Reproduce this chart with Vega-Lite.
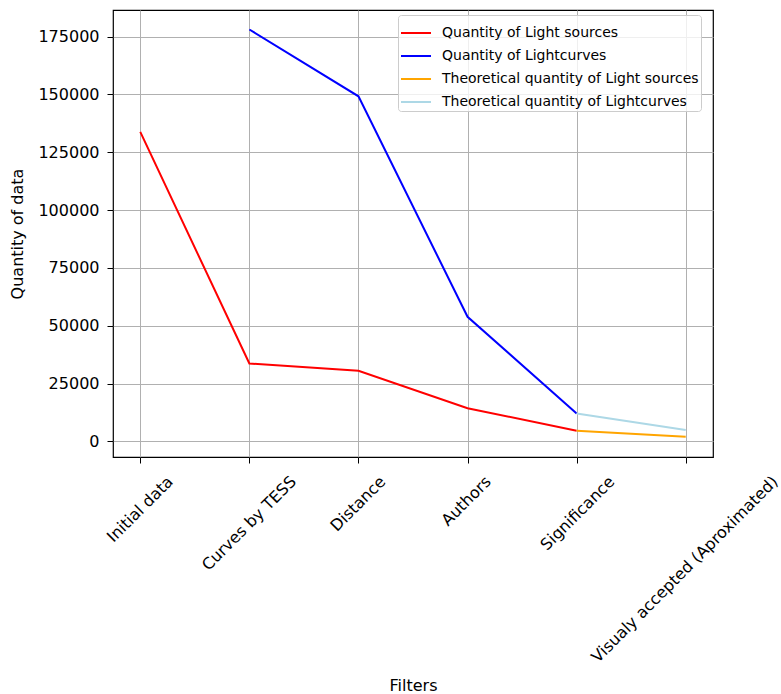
{
  "$schema": "https://vega.github.io/schema/vega-lite/v6.json",
  "width": 600,
  "height": 447,
  "autosize": {"type": "none"},
  "padding": {"left": 113, "top": 10, "right": 68, "bottom": 237},
  "background": "white",
  "config": {
    "font": "DejaVu Sans",
    "view": {"stroke": "#000000", "strokeWidth": 1.2}
  },
  "data": {
    "values": [
      {"filter": "Initial data", "series": "Quantity of Light sources", "value": 133800},
      {"filter": "Curves by TESS", "series": "Quantity of Light sources", "value": 33700},
      {"filter": "Distance", "series": "Quantity of Light sources", "value": 30600},
      {"filter": "Authors", "series": "Quantity of Light sources", "value": 14400},
      {"filter": "Significance", "series": "Quantity of Light sources", "value": 4630},
      {"filter": "Curves by TESS", "series": "Quantity of Lightcurves", "value": 178080},
      {"filter": "Distance", "series": "Quantity of Lightcurves", "value": 149200},
      {"filter": "Authors", "series": "Quantity of Lightcurves", "value": 53900},
      {"filter": "Significance", "series": "Quantity of Lightcurves", "value": 12100},
      {"filter": "Significance", "series": "Theoretical quantity of Light sources", "value": 4630},
      {"filter": "Visualy accepted (Aproximated)", "series": "Theoretical quantity of Light sources", "value": 2030},
      {"filter": "Significance", "series": "Theoretical quantity of Lightcurves", "value": 12100},
      {"filter": "Visualy accepted (Aproximated)", "series": "Theoretical quantity of Lightcurves", "value": 4930}
    ]
  },
  "mark": {"type": "line", "strokeWidth": 2, "clip": true},
  "encoding": {
    "x": {
      "field": "filter",
      "type": "ordinal",
      "sort": ["Initial data", "Curves by TESS", "Distance", "Authors", "Significance", "Visualy accepted (Aproximated)"],
      "scale": {"type": "point", "padding": 0.25},
      "axis": {
        "title": "Filters",
        "titleFontSize": 16,
        "titleFontWeight": "normal",
        "titleColor": "#000000",
        "titlePadding": 20,
        "labelFontSize": 16,
        "labelColor": "#000000",
        "labelAngle": -45,
        "labelAlign": "right",
        "labelBaseline": "top",
        "labelPadding": 10,
        "labelOffset": {"expr": "3.59 * length(replace(datum.label, regexp('[iltfjrI() ]', 'g'), '')) + 1.87 * (length(datum.label) - length(replace(datum.label, regexp('[iltfjrI() ]', 'g'), ''))) - 7"},
        "labelOverlap": false,
        "labelBound": false,
        "labelLimit": 0,
        "tickSize": 6,
        "tickColor": "#000000",
        "domain": false,
        "grid": true,
        "gridColor": "#b0b0b0",
        "gridWidth": 1
      }
    },
    "y": {
      "field": "value",
      "type": "quantitative",
      "scale": {"domain": [-6700, 186500], "nice": false, "zero": false},
      "axis": {
        "title": "Quantity of data",
        "titleFontSize": 16,
        "titleFontWeight": "normal",
        "titleColor": "#000000",
        "titlePadding": 12,
        "values": [0, 25000, 50000, 75000, 100000, 125000, 150000, 175000],
        "format": "d",
        "labelFontSize": 16,
        "labelColor": "#000000",
        "labelPadding": 8,
        "tickSize": 6,
        "tickColor": "#000000",
        "domain": false,
        "grid": true,
        "gridColor": "#b0b0b0",
        "gridWidth": 1
      }
    },
    "color": {
      "field": "series",
      "type": "nominal",
      "scale": {
        "domain": ["Quantity of Light sources", "Quantity of Lightcurves", "Theoretical quantity of Light sources", "Theoretical quantity of Lightcurves"],
        "range": ["#ff0000", "#0000ff", "#ffa500", "#add8e6"]
      },
      "legend": {
        "title": null,
        "orient": "none",
        "legendX": 285,
        "legendY": 5,
        "symbolType": "stroke",
        "symbolSize": 900,
        "symbolStrokeWidth": 2,
        "labelFontSize": 14,
        "labelColor": "#000000",
        "labelOffset": 10,
        "labelLimit": 0,
        "rowPadding": 0,
        "padding": 2,
        "fillColor": "rgba(255,255,255,0.8)",
        "strokeColor": "#cccccc",
        "cornerRadius": 3
      }
    }
  }
}
